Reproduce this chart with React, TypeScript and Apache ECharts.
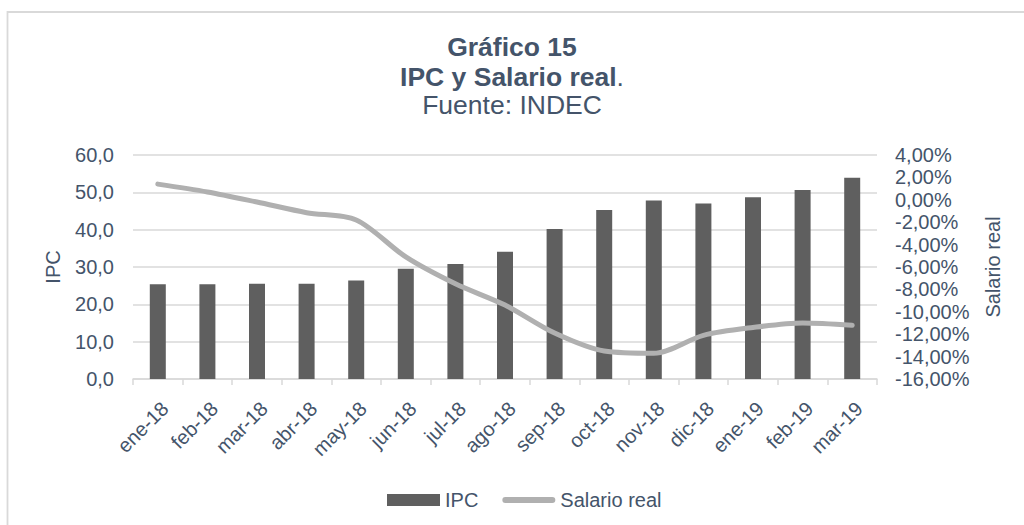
import React, { useEffect, useRef } from "react";
import * as echarts from "echarts";

const categories = [
  "ene-18", "feb-18", "mar-18", "abr-18", "may-18", "jun-18", "jul-18", "ago-18",
  "sep-18", "oct-18", "nov-18", "dic-18", "ene-19", "feb-19", "mar-19",
];
const ipcValues = [25.4, 25.4, 25.5, 25.5, 26.4, 29.5, 30.8, 34.1, 40.2, 45.3, 47.8, 47.0, 48.7, 50.6, 53.9];
const salarioValues = [1.4, 0.7, -0.2, -1.15, -1.8, -5.1, -7.5, -9.4, -11.9, -13.5, -13.7, -12.1, -11.4, -11.0, -11.2];
const titleLines = ["Gráfico 15", "IPC y Salario real", "Fuente: INDEC"];

const FONT = "'Liberation Sans', Arial, sans-serif";
const TEXT = "#44546a";
const FS = 20;
const TFS = 26.5;

export default function App() {
  const ref = useRef<HTMLDivElement>(null);
  useEffect(() => {
    if (!ref.current) return;
    const chart = echarts.init(ref.current, null, { renderer: "svg" });
    chart.setOption({
      animation: false,
      backgroundColor: "#ffffff",
      textStyle: { fontFamily: FONT, color: TEXT },
      graphic: [
        {
          type: "rect",
          shape: { x: 7.5, y: 12, width: 1100, height: 600 },
          style: { fill: "none", stroke: "#d9d9d9", lineWidth: 1.8 },
          silent: true,
        },
        {
          type: "text",
          x: 512,
          y: 47,
          style: {
            text: titleLines[0],
            fill: TEXT,
            font: `bold ${TFS}px ${FONT}`,
            textAlign: "center",
            textVerticalAlign: "middle",
          },
        },
        {
          type: "text",
          x: 512,
          y: 77,
          style: {
            text: `{b|${titleLines[1]}}{n|.}`,
            fill: TEXT,
            textAlign: "center",
            textVerticalAlign: "middle",
            rich: {
              b: { fontFamily: FONT, fontWeight: "bold", fontSize: TFS, fill: TEXT },
              n: { fontFamily: FONT, fontWeight: "normal", fontSize: TFS, fill: TEXT },
            },
          },
        },
        {
          type: "text",
          x: 512,
          y: 105,
          style: {
            text: titleLines[2],
            fill: TEXT,
            font: `${TFS}px ${FONT}`,
            textAlign: "center",
            textVerticalAlign: "middle",
          },
        },
      ],
      legend: {
        left: 382,
        top: 485,
        itemWidth: 53,
        itemHeight: 12,
        itemGap: 24,
        symbolKeepAspect: true,
        textStyle: { fontFamily: FONT, fontSize: FS, color: TEXT },
        data: [
          { name: "IPC", icon: "rect" },
          {
            name: "Salario real",
            icon: "path://M3,0 L50,0 A3,3 0 0 1 50,6 L3,6 A3,3 0 0 1 3,0 Z",
          },
        ],
      },
      grid: { left: 133, right: 147, top: 155, bottom: 146, containLabel: false },
      xAxis: {
        type: "category",
        data: categories,
        axisLine: { lineStyle: { color: "#d9d9d9", width: 1.5 } },
        axisTick: { show: true, length: 6, lineStyle: { color: "#d9d9d9", width: 1.5 } },
        axisLabel: {
          rotate: 45,
          fontSize: FS,
          color: TEXT,
          fontFamily: FONT,
          margin: 19,
          interval: 0,
          align: "right",
          verticalAlign: "top",
        },
      },
      yAxis: [
        {
          type: "value",
          min: 0,
          max: 60,
          interval: 10,
          name: "IPC",
          nameLocation: "middle",
          nameGap: 70,
          nameTextStyle: { fontSize: FS, color: TEXT, fontFamily: FONT },
          axisLine: { show: false },
          axisTick: { show: false },
          axisLabel: {
            fontSize: FS,
            color: TEXT,
            fontFamily: FONT,
            margin: 19,
            formatter: (v: number) => v.toFixed(1).replace(".", ","),
          },
          splitLine: { lineStyle: { color: "#d9d9d9", width: 1.5 } },
        },
        {
          type: "value",
          min: -16,
          max: 4,
          interval: 2,
          name: "Salario real",
          nameLocation: "middle",
          nameGap: 106,
          nameTextStyle: { fontSize: FS, color: TEXT, fontFamily: FONT },
          axisLine: { show: false },
          axisTick: { show: false },
          splitLine: { show: false },
          axisLabel: {
            fontSize: FS,
            color: TEXT,
            fontFamily: FONT,
            margin: 18,
            formatter: (v: number) => v.toFixed(2).replace(".", ",") + "%",
          },
        },
      ],
      series: [
        {
          name: "IPC",
          type: "bar",
          data: ipcValues,
          barWidth: 16,
          itemStyle: { color: "#5f5f5f" },
          yAxisIndex: 0,
        },
        {
          name: "Salario real",
          type: "line",
          data: salarioValues,
          yAxisIndex: 1,
          smooth: 0.3,
          symbol: "none",
          lineStyle: { color: "#b0b0b0", width: 5, cap: "round", join: "round" },
          itemStyle: { color: "#b0b0b0" },
        },
      ],
    });
    return () => chart.dispose();
  }, []);
  return (
    <div
      ref={ref}
      style={{ position: "absolute", left: 0, top: 0, width: 1024, height: 525 }}
    />
  );
}
